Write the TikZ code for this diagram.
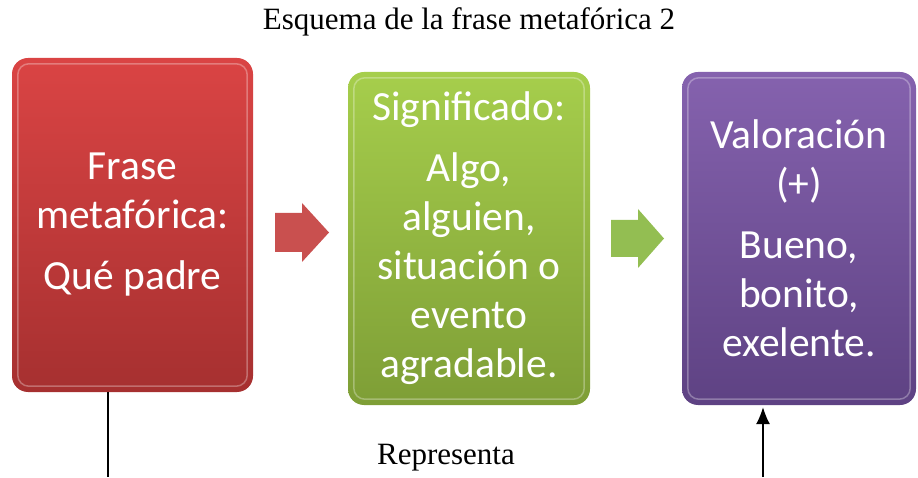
\documentclass[tikz,border=0pt]{standalone}
\usepackage{fontspec}
\setmainfont{Liberation Serif}
\newfontfamily\calibri{Carlito}
\usetikzlibrary{arrows.meta}

\definecolor{rojoA}{HTML}{DA4444}
\definecolor{rojoB}{HTML}{A63030}
\definecolor{rojoF}{HTML}{C9504F}
\definecolor{verdeA}{HTML}{A6CE4C}
\definecolor{verdeB}{HTML}{7E9E36}
\definecolor{verdeF}{HTML}{93BE52}
\definecolor{moradoA}{HTML}{8562AE}
\definecolor{moradoB}{HTML}{5E4283}

\tikzset{
  caja/.style={rounded corners=16pt, text=white, align=center, inner sep=0pt,
    font=\calibri\fontsize{41.5}{49}\selectfont},
  brillo/.style={white, opacity=0.3, line width=1.5pt, rounded corners=11pt},
  letrero/.style={font=\fontsize{31}{36}\selectfont}
}

\begin{document}
\begin{tikzpicture}[x=1pt,y=1pt]
  \useasboundingbox (0,0) rectangle (918,477);
  \node[letrero] (titulo) at (469,455) {Esquema de la frase metafórica 2};

  \node[caja, top color=rojoA, bottom color=rojoB, minimum width=241pt, minimum height=334pt]
    (frase) at (132.5,252) {Frase\\metafórica:\\[12pt]Qué padre};
  \node[caja, top color=verdeA, bottom color=verdeB, minimum width=242pt, minimum height=333pt]
    (significado) at (469,238.5) {Significado:\\[12pt]Algo,\\alguien,\\situación o\\evento\\agradable.};
  \node[caja, top color=moradoA, bottom color=moradoB, minimum width=234pt, minimum height=333pt]
    (valor) at (799,238.5) {Valoración\\(+)\\[12pt]Bueno,\\bonito,\\exelente.};

  % brillo de los bordes
  \foreach \c in {frase,significado,valor}
    \draw[brillo] ([shift={(6,6)}]\c.south west) rectangle ([shift={(-6,-6)}]\c.north east);

  % flechas gruesas
  \fill[rojoF] (275,264) -- (302,264) -- (302,274) -- (329,244.5) -- (302,215) -- (302,225) -- (275,225) -- cycle;
  \fill[verdeF] (611,257) -- (638,257) -- (638,268) -- (664,238.5) -- (638,209) -- (638,220) -- (611,220) -- cycle;

  \node[letrero] (representa) at (446,19) {Representa};
  \coordinate (pie) at (108,0);
  \coordinate (base) at (763,0);
  \draw[line width=1.3pt] (frase.south -| pie) -- (pie);
  \draw[line width=1.3pt, -{Latex[length=17pt,width=14pt]}] (base) -- ([yshift=-2pt]valor.south -| base);
\end{tikzpicture}
\end{document}
